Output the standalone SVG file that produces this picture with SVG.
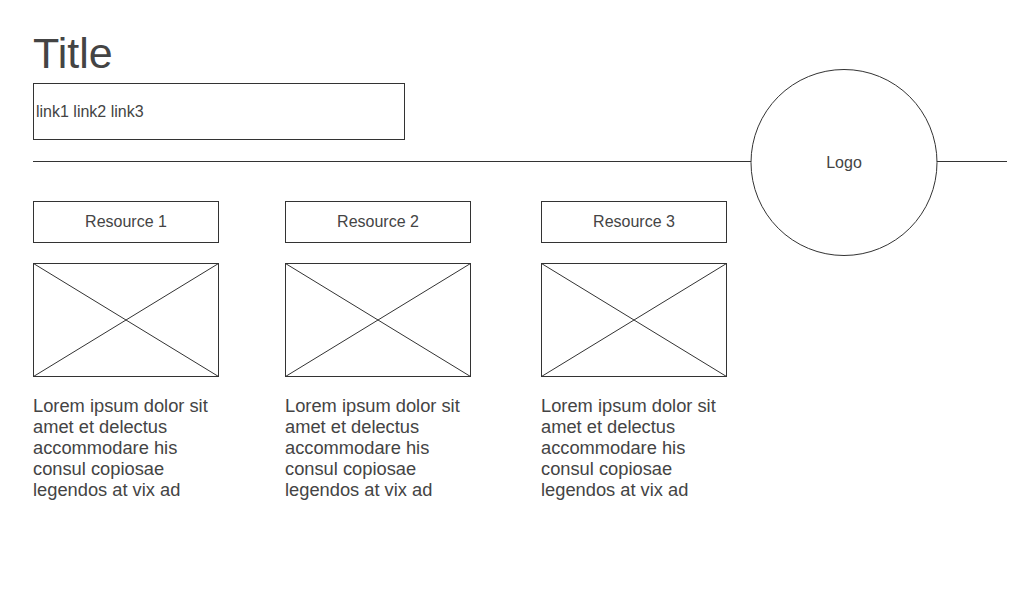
<svg xmlns="http://www.w3.org/2000/svg" width="1024" height="600" viewBox="0 0 1024 600">
<style>
.s{fill:#fff;stroke:#333;stroke-width:1}
.l{stroke:#333;stroke-width:1;fill:none}
text{font-family:"Liberation Sans",Arial,sans-serif;fill:#444}
.c{text-anchor:middle;font-size:16px}
.p{font-size:18.3px}
</style>
<rect width="1024" height="600" fill="#fff"/>
<g id="connectors">
<line class="l" x1="33" y1="161.5" x2="1007" y2="161.5"/>
</g>
<g id="title"><text x="33" y="67.5" font-size="43">Title</text></g>
<g id="nav"><rect class="s" x="33.5" y="83.5" width="371" height="56"/><text x="36" y="117" font-size="16">link1 link2 link3</text></g>
<g id="logo"><circle class="s" cx="844" cy="162.5" r="93"/><text class="c" x="844" y="168">Logo</text></g>
<g id="res1">
<rect class="s" x="33.5" y="201.5" width="185" height="41"/><text class="c" x="126" y="227">Resource 1</text>
<rect class="s" x="33.5" y="263.5" width="185" height="113"/><path class="l" d="M33.5 263.5L218.5 376.5M218.5 263.5L33.5 376.5"/>
<text class="p"><tspan x="33" y="412">Lorem ipsum dolor sit</tspan><tspan x="33" y="433">amet et delectus</tspan><tspan x="33" y="454">accommodare his</tspan><tspan x="33" y="475">consul copiosae</tspan><tspan x="33" y="496">legendos at vix ad</tspan></text>
</g>
<g id="res2">
<rect class="s" x="285.5" y="201.5" width="185" height="41"/><text class="c" x="378" y="227">Resource 2</text>
<rect class="s" x="285.5" y="263.5" width="185" height="113"/><path class="l" d="M285.5 263.5L470.5 376.5M470.5 263.5L285.5 376.5"/>
<text class="p"><tspan x="285" y="412">Lorem ipsum dolor sit</tspan><tspan x="285" y="433">amet et delectus</tspan><tspan x="285" y="454">accommodare his</tspan><tspan x="285" y="475">consul copiosae</tspan><tspan x="285" y="496">legendos at vix ad</tspan></text>
</g>
<g id="res3">
<rect class="s" x="541.5" y="201.5" width="185" height="41"/><text class="c" x="634" y="227">Resource 3</text>
<rect class="s" x="541.5" y="263.5" width="185" height="113"/><path class="l" d="M541.5 263.5L726.5 376.5M726.5 263.5L541.5 376.5"/>
<text class="p"><tspan x="541" y="412">Lorem ipsum dolor sit</tspan><tspan x="541" y="433">amet et delectus</tspan><tspan x="541" y="454">accommodare his</tspan><tspan x="541" y="475">consul copiosae</tspan><tspan x="541" y="496">legendos at vix ad</tspan></text>
</g>
</svg>
